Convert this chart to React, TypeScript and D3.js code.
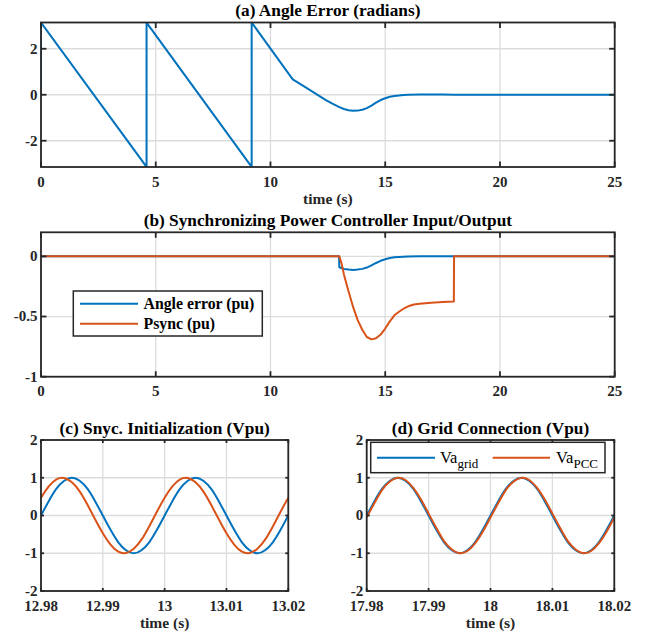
import React from 'react';
import * as d3 from 'd3';

// (a) angle error, radians
const angleT = [0, 0, 4.6, 4.6, 9.18, 9.18, 10.97, 11.5, 12.0, 12.4, 12.7, 13.0, 13.2, 13.4, 13.6, 13.8, 14.0, 14.2, 14.4, 14.6, 14.8, 15.0, 15.2, 15.4, 15.6, 15.8, 16.0, 16.5, 17.0, 17.5, 18.0, 18.5, 25];
const angleV = [0, 3.14, -3.14, 3.14, -3.14, 3.14, 0.67, 0.34, 0.03, -0.22, -0.39, -0.54, -0.62, -0.67, -0.70, -0.69, -0.65, -0.58, -0.47, -0.34, -0.23, -0.15, -0.09, -0.05, -0.03, -0.015, -0.005, 0.01, 0.012, 0.01, 0.005, 0, 0];

// (b) synchronizing power controller
const errT = [0, 12.99, 13.0, 13.2, 13.4, 13.6, 13.8, 14.0, 14.2, 14.4, 14.6, 14.8, 15.0, 15.2, 15.4, 15.6, 15.8, 16.0, 16.5, 25];
const errV = [0, 0, -0.09, -0.105, -0.11, -0.113, -0.11, -0.104, -0.093, -0.075, -0.055, -0.037, -0.024, -0.014, -0.008, -0.005, -0.003, -0.001, 0, 0];
const psyncT = [0, 13.0, 13.1, 13.2, 13.4, 13.6, 13.8, 14.0, 14.2, 14.4, 14.6, 14.8, 15.0, 15.2, 15.4, 15.6, 15.8, 16.0, 16.25, 16.5, 17.0, 17.5, 17.99, 18.0, 25];
const psyncV = [0, 0, -0.06, -0.15, -0.29, -0.42, -0.53, -0.61, -0.67, -0.69, -0.68, -0.65, -0.60, -0.54, -0.49, -0.46, -0.435, -0.415, -0.40, -0.393, -0.385, -0.38, -0.375, 0, 0];

// (c) sync initialization, (d) grid connection
const initT = [12.98, 12.98125, 12.9825, 12.98375, 12.985, 12.98625, 12.9875, 12.98875, 12.99, 12.99125, 12.9925, 12.99375, 12.995, 12.99625, 12.9975, 12.99875, 13.0, 13.00125, 13.0025, 13.00375, 13.005, 13.00625, 13.0075, 13.00875, 13.01, 13.01125, 13.0125, 13.01375, 13.015, 13.01625, 13.0175, 13.01875, 13.02];
const initGrid = [0, 0.38, 0.71, 0.92, 1, 0.92, 0.71, 0.38, 0, -0.38, -0.71, -0.92, -1, -0.92, -0.71, -0.38, 0, 0.38, 0.71, 0.92, 1, 0.92, 0.71, 0.38, 0, -0.38, -0.71, -0.92, -1, -0.92, -0.71, -0.38, 0];
const initPcc = [0.47, 0.77, 0.96, 0.995, 0.88, 0.64, 0.29, -0.10, -0.47, -0.77, -0.96, -0.995, -0.88, -0.64, -0.29, 0.10, 0.47, 0.77, 0.96, 0.995, 0.88, 0.64, 0.29, -0.10, -0.47, -0.77, -0.96, -0.995, -0.88, -0.64, -0.29, 0.10, 0.47];
const connT = [17.98, 17.98125, 17.9825, 17.98375, 17.985, 17.98625, 17.9875, 17.98875, 17.99, 17.99125, 17.9925, 17.99375, 17.995, 17.99625, 17.9975, 17.99875, 18.0, 18.00125, 18.0025, 18.00375, 18.005, 18.00625, 18.0075, 18.00875, 18.01, 18.01125, 18.0125, 18.01375, 18.015, 18.01625, 18.0175, 18.01875, 18.02];
const connGrid = [0, 0.38, 0.71, 0.92, 1, 0.92, 0.71, 0.38, 0, -0.38, -0.71, -0.92, -1, -0.92, -0.71, -0.38, 0, 0.38, 0.71, 0.92, 1, 0.92, 0.71, 0.38, 0, -0.38, -0.71, -0.92, -1, -0.92, -0.71, -0.38, 0];
const connPcc = [-0.05, 0.33, 0.68, 0.90, 1, 0.94, 0.74, 0.43, 0.05, -0.33, -0.68, -0.90, -1, -0.94, -0.74, -0.43, -0.05, 0.33, 0.68, 0.90, 1, 0.94, 0.74, 0.43, 0.05, -0.33, -0.68, -0.90, -1, -0.94, -0.74, -0.43, -0.05];

const longTicks = [0, 5, 10, 15, 20, 25];
const initTicks = [12.98, 12.99, 13, 13.01, 13.02];
const connTicks = [17.98, 17.99, 18, 18.01, 18.02];
const voltTicks = [-2, -1, 0, 1, 2];

const BLUE = '#0072BD';
const ORANGE = '#D95319';
const AXIS = '#262626';
const GRID = '#dcdcdc';
const FAMILY = 'Times New Roman';

type Series = { t: number[]; v: number[]; color: string; curve?: d3.CurveFactory };

type PanelProps = {
    id: string;
    left: number; right: number; top: number; bottom: number;
    xDomain: [number, number]; yDomain: [number, number];
    xTicks: number[]; yTicks: number[];
    title: string; titleY: number;
    xlabel?: string;
    tickLen: number;
    series: Series[];
    children?: React.ReactNode;
};

function Label(props: any) {
    return <text fontFamily={FAMILY} style={{ fontFamily: `'${FAMILY}'` }} {...props}/>;
}

function Panel(p: PanelProps) {
    const x = d3.scaleLinear().domain(p.xDomain).range([p.left, p.right]);
    const y = d3.scaleLinear().domain(p.yDomain).range([p.bottom, p.top]);
    const fmt = (d: number) => String(d);
    const cx = (p.left + p.right) / 2;
    return (
        <g>
            <defs>
                <clipPath id={p.id}>
                    <rect x={p.left} y={p.top} width={p.right - p.left} height={p.bottom - p.top}/>
                </clipPath>
            </defs>
            {p.xTicks.map(d => (
                <line key={'gx' + d} x1={x(d)} x2={x(d)} y1={p.top} y2={p.bottom} stroke={GRID} strokeWidth={1.3}/>
            ))}
            {p.yTicks.map(d => (
                <line key={'gy' + d} x1={p.left} x2={p.right} y1={y(d)} y2={y(d)} stroke={GRID} strokeWidth={1.3}/>
            ))}
            <g clipPath={`url(#${p.id})`}>
                {p.series.map((s, i) => {
                    const line = d3.line<number>()
                        .x((_, j) => x(s.t[j]))
                        .y(d => y(d))
                        .curve(s.curve || d3.curveLinear);
                    return <path key={i} d={line(s.v) || ''} fill="none" stroke={s.color} strokeWidth={2} strokeLinejoin="round"/>;
                })}
            </g>
            <rect x={p.left} y={p.top} width={p.right - p.left} height={p.bottom - p.top} fill="none" stroke={AXIS} strokeWidth={1.8}/>
            {p.xTicks.map(d => (
                <g key={'tx' + d}>
                    <line x1={x(d)} x2={x(d)} y1={p.bottom} y2={p.bottom - p.tickLen} stroke={AXIS} strokeWidth={1.8}/>
                    <line x1={x(d)} x2={x(d)} y1={p.top} y2={p.top + p.tickLen} stroke={AXIS} strokeWidth={1.8}/>
                    <Label x={x(d)} y={p.bottom + 19.5} textAnchor="middle" fontSize={15} fontWeight="bold" fill={AXIS}>{fmt(d)}</Label>
                </g>
            ))}
            {p.yTicks.map(d => (
                <g key={'ty' + d}>
                    <line x1={p.left} x2={p.left + p.tickLen} y1={y(d)} y2={y(d)} stroke={AXIS} strokeWidth={1.8}/>
                    <line x1={p.right} x2={p.right - p.tickLen} y1={y(d)} y2={y(d)} stroke={AXIS} strokeWidth={1.8}/>
                    <Label x={p.left - 3.5} y={y(d)} dy="0.33em" textAnchor="end" fontSize={15} fontWeight="bold" fill={AXIS}>{fmt(d)}</Label>
                </g>
            ))}
            <Label x={cx} y={p.titleY} textAnchor="middle" fontSize={17.3} fontWeight="bold" fill="#000">{p.title}</Label>
            {p.xlabel && (
                <Label x={cx} y={p.bottom + 36.7} textAnchor="middle" fontSize={15.5} fontWeight="bold" fill={AXIS}>{p.xlabel}</Label>
            )}
            {p.children}
        </g>
    );
}

export default function App() {
    return (
        <svg width={651} height={639} style={{ position: 'absolute', left: 0, top: 0, background: '#fff' }}>
            <rect width={651} height={639} fill="#fff"/>
            <Panel id="ca" left={41} right={614.7} top={22.5} bottom={167}
                   xDomain={[0, 25]} yDomain={[-Math.PI, Math.PI]}
                   xTicks={longTicks} yTicks={[-2, 0, 2]}
                   title="(a) Angle Error (radians)" titleY={15.5} xlabel="time (s)" tickLen={5.5}
                   series={[{ t: angleT, v: angleV, color: BLUE }]}/>
            <Panel id="cb" left={41} right={614.7} top={232.3} bottom={376.7}
                   xDomain={[0, 25]} yDomain={[-1, 0.2]}
                   xTicks={longTicks} yTicks={[-1, -0.5, 0]}
                   title="(b) Synchronizing Power Controller Input/Output" titleY={225.5} tickLen={5.5}
                   series={[{ t: errT, v: errV, color: BLUE }, { t: psyncT, v: psyncV, color: ORANGE }]}>
                <rect x={73.3} y={291} width={189} height={45} fill="#fff" stroke={AXIS} strokeWidth={1.5}/>
                <line x1={80} x2={138} y1={303.7} y2={303.7} stroke={BLUE} strokeWidth={2}/>
                <line x1={80} x2={138} y1={323.7} y2={323.7} stroke={ORANGE} strokeWidth={2}/>
                <Label x={143.5} y={303.7} dy="0.33em" fontSize={15.8} fontWeight="bold" fill="#000">Angle error (pu)</Label>
                <Label x={143.5} y={323.7} dy="0.33em" fontSize={15.8} fontWeight="bold" fill="#000">Psync (pu)</Label>
            </Panel>
            <Panel id="cc" left={41} right={288.3} top={440} bottom={591}
                   xDomain={[12.98, 13.02]} yDomain={[-2, 2]}
                   xTicks={initTicks} yTicks={voltTicks}
                   title="(c) Snyc. Initialization (Vpu)" titleY={433.5} xlabel="time (s)" tickLen={3}
                   series={[{ t: initT, v: initGrid, color: BLUE, curve: d3.curveNatural }, { t: initT, v: initPcc, color: ORANGE, curve: d3.curveNatural }]}/>
            <Panel id="cd" left={366.7} right={614.3} top={440} bottom={591}
                   xDomain={[17.98, 18.02]} yDomain={[-2, 2]}
                   xTicks={connTicks} yTicks={voltTicks}
                   title="(d) Grid Connection (Vpu)" titleY={433.5} xlabel="time (s)" tickLen={3}
                   series={[{ t: connT, v: connGrid, color: BLUE, curve: d3.curveNatural }, { t: connT, v: connPcc, color: ORANGE, curve: d3.curveNatural }]}>
                <rect x={370.7} y={442.3} width={234.3} height={30.4} fill="#fff" stroke={AXIS} strokeWidth={1.5}/>
                <line x1={377} x2={435} y1={457.7} y2={457.7} stroke={BLUE} strokeWidth={2}/>
                <line x1={492.7} x2={550} y1={457.7} y2={457.7} stroke={ORANGE} strokeWidth={2}/>
                <Label x={440} y={463} fontSize={16.5} fill="#000">Va<tspan dy={5} fontSize={13}>grid</tspan></Label>
                <Label x={556} y={463} fontSize={16.5} fill="#000">Va<tspan dy={5} fontSize={13}>PCC</tspan></Label>
            </Panel>
        </svg>
    );
}
